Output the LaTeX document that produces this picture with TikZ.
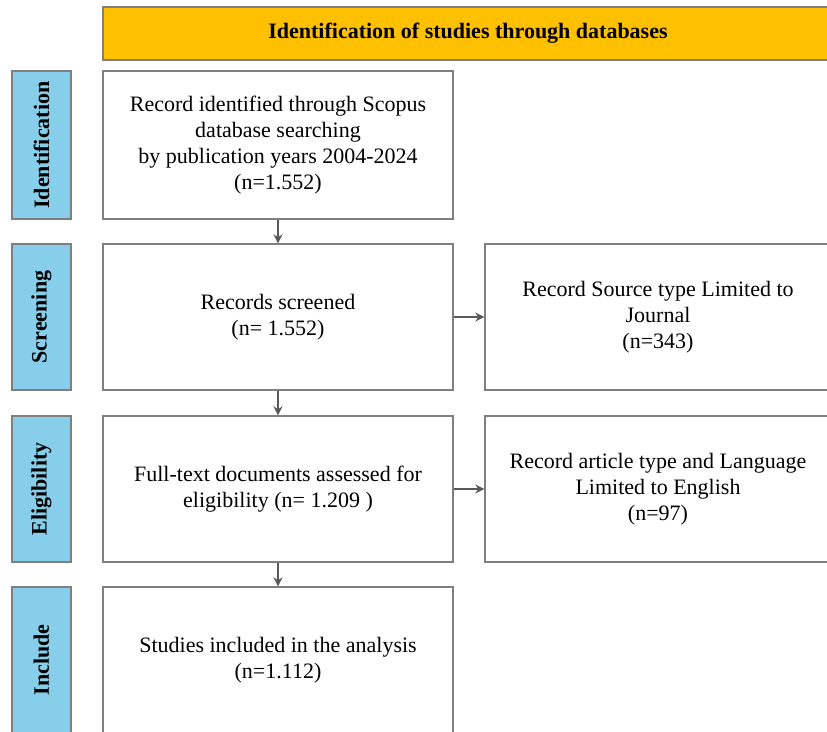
\documentclass[tikz,border=0pt]{standalone}
\usepackage{fontspec}
\setmainfont{Liberation Serif}
\usepackage{xcolor}
\usepackage{tikz}
\usetikzlibrary{positioning, arrows.meta}

\definecolor{headorange}{HTML}{FFC000}
\definecolor{phaseblue}{HTML}{87CEEB}
\definecolor{edgegray}{HTML}{7F7F7F}
\definecolor{arrowgray}{HTML}{595959}

\tikzset{
	box/.style = {draw = edgegray, line width = 1.3pt, fill = white, align = center, inner sep = 0pt, font = \fontsize{22}{26}\selectfont},
	phase/.style = {draw = edgegray, line width = 1.3pt, fill = phaseblue, rotate = 90, inner sep = 0pt, minimum height = 59pt, font = \bfseries\fontsize{22}{26}\selectfont},
	flow/.style = {-{Stealth[length = 9pt, width = 9pt]}, draw = arrowgray, fill = arrowgray, line width = 1.4pt}
}

\begin{document}
\begin{tikzpicture}[x = 1pt, y = -1pt]
		\def\lw{350};
		\def\rw{346};
		
		\path [use as bounding box, clip] (0,0) rectangle (827,731);
		\fill [white] (0,0) rectangle (827,731);
		
		\node [box, fill = headorange, minimum width = 730pt, minimum height = 53pt, font = \bfseries\fontsize{22}{26}\selectfont] (head) at (468,33.5) {Identification of studies through databases};
		
		\node [phase, minimum width = 148pt] (pident) at (41.5,145) {Identification};
		\node [phase, minimum width = 146pt] (pscreen) at (41.5,317) {Screening};
		\node [phase, minimum width = 146pt] (pelig) at (41.5,489) {Eligibility};
		\node [phase, minimum width = 146pt] (pincl) at (41.5,660) {Include};
		
		\node [box, minimum width = \lw pt, minimum height = 148pt] (ident) at (278,145) {Record identified through Scopus\\database searching\\by publication years 2004-2024\\(n=1.552)};
		\node [box, minimum width = \lw pt, minimum height = 146pt] (screen) at (278,317) {Records screened\\(n= 1.552)};
		\node [box, minimum width = \lw pt, minimum height = 146pt] (elig) at (278,489) {Full-text documents assessed for\\eligibility (n= 1.209 )};
		\node [box, minimum width = \lw pt, minimum height = 146pt] (incl) at (278,660) {Studies included in the analysis\\(n=1.112)};
		
		\node [box, minimum width = \rw pt, minimum height = 146pt] (exjournal) at (658,317) {Record Source type Limited to\\Journal\\(n=343)};
		\node [box, minimum width = \rw pt, minimum height = 146pt] (exlang) at (658,489) {Record article type and Language\\Limited to English\\(n=97)};
		
		\draw [flow] (ident) -- (screen);
		\draw [flow] (screen) -- (elig);
		\draw [flow] (elig) -- (incl);
		\draw [flow] (screen) -- (exjournal);
		\draw [flow] (elig) -- (exlang);
	\end{tikzpicture}
\end{document}
